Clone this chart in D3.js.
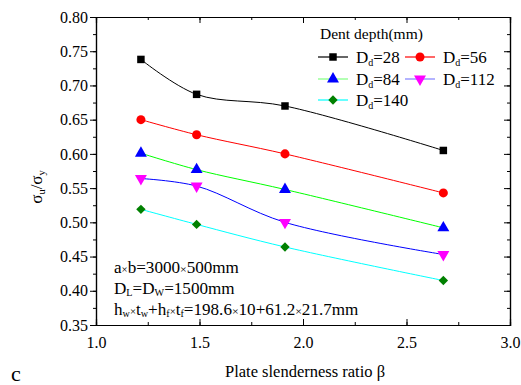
<!DOCTYPE html>
<html>
<head>
<meta charset="utf-8">
<script src="https://cdn.jsdelivr.net/npm/d3@7"></script>
<style>
  body { margin: 0; background: #fff; }
  svg text { font-family: 'Liberation Serif', 'DejaVu Serif', serif !important; }
</style>
</head>
<body>
<div id="chart"></div>
<script>
// data
let betaValues = [1.217, 1.486, 1.913, 2.678];
let dentDepths = [28, 56, 84, 112, 140];
let ratioD28 = [0.738, 0.687, 0.670, 0.605];
let ratioD56 = [0.650, 0.628, 0.600, 0.543];
let ratioD84 = [0.601, 0.577, 0.548, 0.492];
let ratioD112 = [0.564, 0.553, 0.500, 0.453];
let ratioD140 = [0.519, 0.497, 0.464, 0.415];
let xTicks = [1.0, 1.5, 2.0, 2.5, 3.0];
let yTicks = [0.35, 0.40, 0.45, 0.50, 0.55, 0.60, 0.65, 0.70, 0.75, 0.80];

let serif = "'Liberation Serif', 'DejaVu Serif', serif";

let seriesStyles = [
    { line: '#000000', fill: '#000000', legendLine: '#000000', symbol: d3.symbolSquare, size: 56, rot: 0 },
    { line: '#ff0000', fill: '#ff0000', legendLine: '#ff0000', symbol: d3.symbolCircle, size: 64, rot: 0 },
    { line: '#00ff00', fill: '#0000ff', legendLine: '#80ff80', symbol: d3.symbolTriangle, size: 62, rot: 0 },
    { line: '#0000ff', fill: '#ff00ff', legendLine: '#8080ff', symbol: d3.symbolTriangle, size: 62, rot: 180 },
    { line: '#00ffff', fill: '#008000', legendLine: '#00ffff', symbol: d3.symbolSquare, size: 44, rot: 45 }
];

let seriesValues = [ratioD28, ratioD56, ratioD84, ratioD112, ratioD140];

let svgWidth = 521, svgHeight = 385;
let margin = { top: 17, right: 11, bottom: 60, left: 96 };
let chartWidth = svgWidth - margin.left - margin.right;
let chartHeight = svgHeight - margin.top - margin.bottom;

let svg = d3.select('#chart')
    .append('svg')
    .attr('width', svgWidth)
    .attr('height', svgHeight)
    .attr('font-family', serif);

let g = svg.append('g')
    .attr('transform', `translate(${margin.left}, ${margin.top})`);

let xScale = d3.scaleLinear().domain([1.0, 3.0]).range([0, chartWidth]);
let yScale = d3.scaleLinear().domain([0.35, 0.80]).range([chartHeight, 0]);

let xMinor = d3.range(1.0, 3.001, 0.25);
let yMinor = d3.range(0.35, 0.801, 0.025);

function styleAxis(sel) {
    sel.attr('font-family', serif);
    sel.select('.domain').attr('stroke', '#000').attr('stroke-width', 1.2);
    sel.selectAll('.tick line').attr('stroke', '#000').attr('stroke-width', 1);
}

// minor ticks
g.append('g').attr('transform', `translate(0, ${chartHeight})`)
    .call(d3.axisBottom(xScale).tickValues(xMinor).tickSize(-3).tickFormat(''))
    .call(styleAxis);
g.append('g')
    .call(d3.axisTop(xScale).tickValues(xMinor).tickSize(-3).tickFormat(''))
    .call(styleAxis);
g.append('g')
    .call(d3.axisLeft(yScale).tickValues(yMinor).tickSize(3).tickFormat(''))
    .call(styleAxis);
g.append('g').attr('transform', `translate(${chartWidth}, 0)`)
    .call(d3.axisRight(yScale).tickValues(yMinor).tickSize(-3).tickFormat(''))
    .call(styleAxis);

// major ticks
let bottomAxis = g.append('g').attr('transform', `translate(0, ${chartHeight})`)
    .call(d3.axisBottom(xScale).tickValues(xTicks).tickSize(-6).tickPadding(12).tickFormat(d3.format('.1f')))
    .call(styleAxis);
bottomAxis.selectAll('text').attr('font-size', 16).attr('fill', '#000');

g.append('g')
    .call(d3.axisTop(xScale).tickValues(xTicks).tickSize(-6).tickFormat(''))
    .call(styleAxis);

let leftAxis = g.append('g')
    .call(d3.axisLeft(yScale).tickValues(yTicks).tickSize(6).tickPadding(2).tickFormat(d3.format('.2f')))
    .call(styleAxis);
leftAxis.selectAll('text').attr('font-size', 16).attr('fill', '#000');

g.append('g').attr('transform', `translate(${chartWidth}, 0)`)
    .call(d3.axisRight(yScale).tickValues(yTicks).tickSize(-6).tickFormat(''))
    .call(styleAxis);

// lines
let lineGen = d3.line()
    .x((d, i) => xScale(betaValues[i]))
    .y(d => yScale(d))
    .curve(d3.curveCatmullRom.alpha(0.5));

seriesValues.forEach((vals, k) => {
    g.append('path')
        .datum(vals)
        .attr('d', lineGen)
        .attr('fill', 'none')
        .attr('stroke', seriesStyles[k].line)
        .attr('stroke-width', 1);
});

// markers
seriesValues.forEach((vals, k) => {
    let st = seriesStyles[k];
    g.selectAll(null)
        .data(vals)
        .enter()
        .append('path')
        .attr('d', d3.symbol().type(st.symbol).size(st.size))
        .attr('transform', (d, i) => `translate(${xScale(betaValues[i])}, ${yScale(d)}) rotate(${st.rot})`)
        .attr('fill', st.fill);
});

// legend
let legend = svg.append('g');
legend.append('text')
    .attr('x', 320).attr('y', 39)
    .attr('font-size', 15.5)
    .text('Dent depth(mm)');

let legendPos = [
    { x: 318, y: 57 }, { x: 405, y: 57 },
    { x: 318, y: 79 }, { x: 405, y: 79 },
    { x: 318, y: 100 }
];

dentDepths.forEach((dd, k) => {
    let st = seriesStyles[k];
    let p = legendPos[k];
    legend.append('line')
        .attr('x1', p.x).attr('x2', p.x + 30)
        .attr('y1', p.y).attr('y2', p.y)
        .attr('stroke', st.legendLine).attr('stroke-width', 1.2);
    legend.append('path')
        .attr('d', d3.symbol().type(st.symbol).size(st.size))
        .attr('transform', `translate(${p.x + 15}, ${p.y}) rotate(${st.rot})`)
        .attr('fill', st.fill);
    let t = legend.append('text')
        .attr('x', p.x + 38).attr('y', p.y + 6)
        .attr('font-size', 17);
    t.append('tspan').text('D');
    t.append('tspan').attr('font-size', 10).attr('dy', 3).text('d');
    t.append('tspan').attr('dy', -3).text('=' + dd);
});

// annotations
let ann = svg.append('g').attr('font-size', 16)
    .attr('transform', 'translate(114, 0) scale(1.07, 1)');
let a1 = ann.append('text').attr('x', 0).attr('y', 273);
a1.append('tspan').text('a');
a1.append('tspan').attr('font-size', 10).text('×');
a1.append('tspan').text('b=3000');
a1.append('tspan').attr('font-size', 11).text('×');
a1.append('tspan').text('500mm');

let a2 = ann.append('text').attr('x', 0).attr('y', 294);
a2.append('tspan').text('D');
a2.append('tspan').attr('font-size', 9.5).attr('dy', 2).text('L');
a2.append('tspan').attr('dy', -2).text('=D');
a2.append('tspan').attr('font-size', 9.5).attr('dy', 2).text('W');
a2.append('tspan').attr('dy', -2).text('=1500mm');

let a3 = ann.append('text').attr('x', 0).attr('y', 315);
a3.append('tspan').text('h');
a3.append('tspan').attr('font-size', 9.5).attr('dy', 2).text('w');
a3.append('tspan').attr('font-size', 10).attr('dy', -2).text('×');
a3.append('tspan').text('t');
a3.append('tspan').attr('font-size', 9.5).attr('dy', 2).text('w');
a3.append('tspan').attr('dy', -2).text('+h');
a3.append('tspan').attr('font-size', 9.5).attr('dy', 2).text('f');
a3.append('tspan').attr('font-size', 10).attr('dy', -2).text('×');
a3.append('tspan').text('t');
a3.append('tspan').attr('font-size', 9.5).attr('dy', 2).text('f');
a3.append('tspan').attr('dy', -2).text('=198.6');
a3.append('tspan').attr('font-size', 11).text('×');
a3.append('tspan').text('10+61.2');
a3.append('tspan').attr('font-size', 11).text('×');
a3.append('tspan').text('21.7mm');

// axis titles
svg.append('text')
    .attr('x', 305).attr('y', 377)
    .attr('text-anchor', 'middle')
    .attr('font-size', 16.5)
    .text('Plate slenderness ratio β');

let yTitle = svg.append('text')
    .attr('transform', `translate(42, 187) rotate(-90)`)
    .attr('text-anchor', 'middle')
    .attr('font-size', 17);
yTitle.append('tspan').text('σ');
yTitle.append('tspan').attr('font-size', 10.5).attr('dy', 3).text('u');
yTitle.append('tspan').attr('dy', -3).text('/σ');
yTitle.append('tspan').attr('font-size', 10.5).attr('dy', 3).text('y');

svg.append('text')
    .attr('x', 11).attr('y', 381)
    .attr('font-size', 22)
    .text('c');
</script>
</body>
</html>
